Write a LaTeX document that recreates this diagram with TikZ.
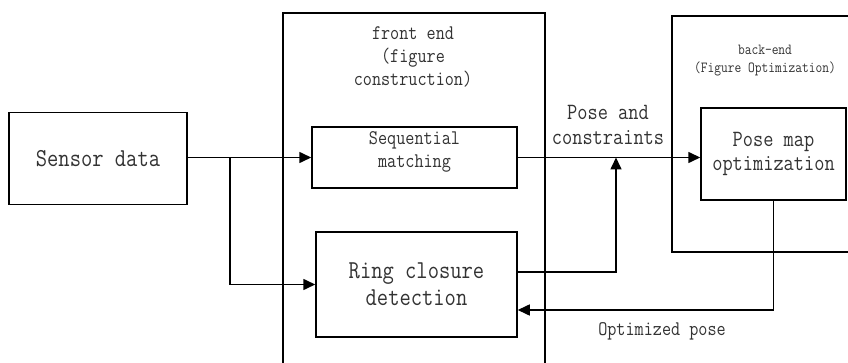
\documentclass[tikz,border=0pt]{standalone}
\usepackage{fontspec}
\newfontfamily\narrowmono[FakeStretch=0.85]{Latin Modern Mono}
\usetikzlibrary{arrows.meta,calc}

\tikzset{
  blk/.style={draw, line width=1.5pt, rectangle, inner sep=0pt, align=center, text=black!80},
  lbl/.style={inner sep=0pt, align=center, text=black!80},
  flow/.style={line width=1.6pt, -{Triangle[length=12pt,width=11pt]}},
  fbig/.style={font=\fontsize{25.8}{27}\selectfont\narrowmono},
  fmid/.style={font=\fontsize{23.3}{24.5}\selectfont\narrowmono},
  fsma/.style={font=\fontsize{20.8}{23}\selectfont\narrowmono},
  ftin/.style={font=\fontsize{15.4}{18}\selectfont\narrowmono},
}

\begin{document}
\begin{tikzpicture}[x=1pt,y=-1pt]
\clip (0,0) rectangle (848,363);
\fill[white] (0,0) rectangle (848,363);

% outer frames of the two stages
\node[blk, minimum width=262pt, minimum height=387pt] (frontend) at (414,206.5) {};
\node[blk, minimum width=228pt, minimum height=236pt] (backend) at (786,134) {};

% frame titles
\node[lbl, fsma] (fronttitle) at (413,57) {front end\\(figure\\construction)};
\node[lbl, ftin] (backtitle) at (765,61) {back-end\\(Figure Optimization)};

% processing blocks
\node[blk, fbig, minimum width=178pt, minimum height=92pt] (sensor) at (98,158.5) {Sensor data};
\node[blk, minimum width=205pt, minimum height=61pt] (seq) at (414.5,157.5) {};
\node[lbl, fsma] (seqtext) at (414.5,151.5) {Sequential\\matching};
\node[blk, fbig, minimum width=201pt, minimum height=105pt] (ring) at (416.5,284.5) {Ring closure\\detection};
\node[blk, fmid, minimum width=145pt, minimum height=92pt] (posemap) at (773.5,154) {Pose map\\optimization};

% edge labels
\node[lbl, fmid] (constr) at (608,125) {Pose and\\constraints};
\node[lbl, fsma] (optpose) at (662,331) {Optimized pose};

% connectors
\coordinate (split) at (230,157.5);
\coordinate (merge) at (616,157.5);
\draw[flow] (sensor.east |- seq.west) -- (seq.west);
\draw[flow] (split) |- (ring.west);
\draw[flow] (seq.east) -- (seq.east -| posemap.west);
\draw[flow] ($(ring.east)+(0,-12.5)$) -| (merge);
\draw[flow] (posemap.south) |- ($(ring.east)+(0,25.5)$);
\end{tikzpicture}
\end{document}
